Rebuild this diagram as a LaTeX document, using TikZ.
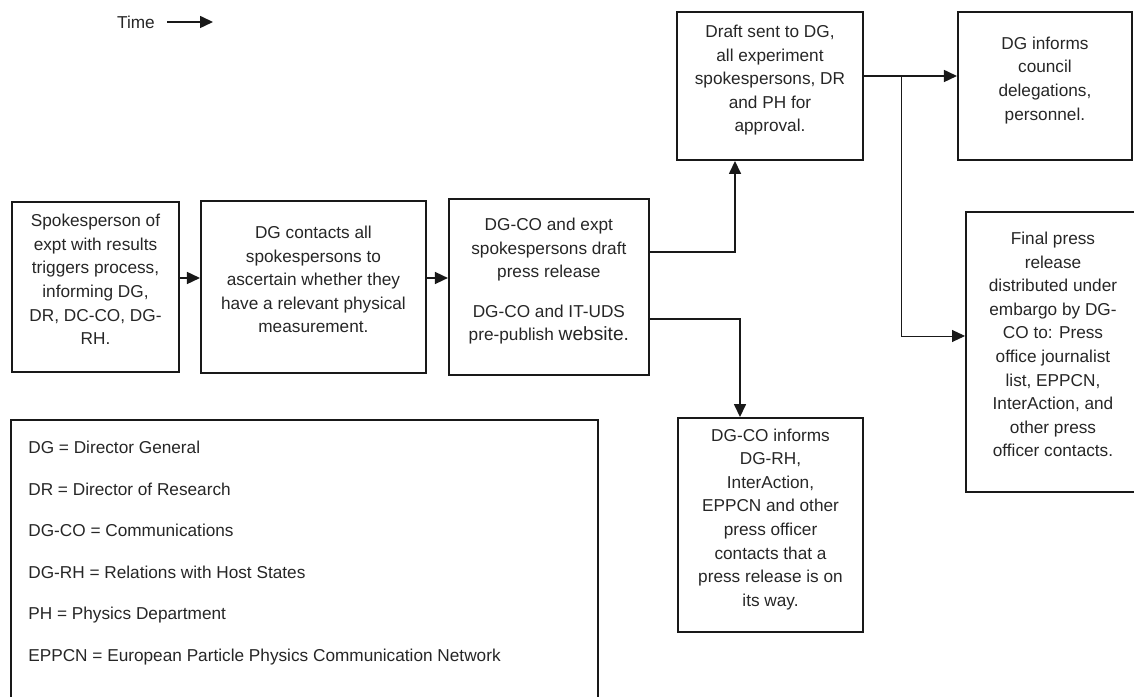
\documentclass[tikz,border=0pt]{standalone}
\usepackage{fontspec}
\setmainfont{Liberation Sans}
\usepackage{tikz}
\usetikzlibrary{arrows.meta, calc, positioning}
\tikzstyle{stage} = [rectangle, draw=black!90, line width=1.1pt, align=center, text=black!85, text depth=0.3cm, font=\fontsize{9.8}{13.4}\selectfont]
\tikzstyle{legendbox} = [rectangle, draw=black!90, line width=1.1pt, minimum width=11.74cm, minimum height=6cm]
\tikzstyle{flow} = [->, line width=0.9pt, draw=black!90]

\begin{document}
\begin{tikzpicture}[>={Triangle[length=0.26cm,width=0.24cm]}]
	\useasboundingbox (0,0) rectangle (22.68,13.94);
	\clip (0,0) rectangle (22.68,13.94);
	\tikzstyle{every node}=[font=\fontsize{9.8}{11.8}\selectfont, text=black!85]

	\node (time) at (2.72,13.5) {Time};
	\coordinate (timeend) at (4.26,13.5);

	\node [stage, minimum width=3.34cm, minimum height=3.4cm] (spokes) at (1.91,8.2) {Spokesperson of\\expt with results\\triggers process,\\informing DG,\\DR, DC-CO, DG-\\RH.};
	\node [stage, minimum width=4.5cm, minimum height=3.44cm, right=0.4cm of spokes] (contacts) {DG contacts all\\spokespersons to\\ascertain whether they\\have a relevant physical\\measurement.};
	\node [stage, minimum width=4.0cm, minimum height=3.52cm, right=0.42cm of contacts] (draftpr) {DG-CO and expt\\spokespersons draft\\press release\\[9pt]DG-CO and IT-UDS\\pre-publish {\fontsize{10.9}{13.4}\selectfont website.}};

	\node [stage, minimum width=3.72cm, minimum height=2.96cm] (approval) at (15.4,12.22) {Draft sent to DG,\\all experiment\\spokespersons, DR\\and PH for\\approval.};
	\node [stage, minimum width=3.48cm, minimum height=2.96cm, right=1.86cm of approval] (council) {DG informs\\council\\delegations,\\personnel.};
	\node [stage, minimum width=3.48cm, minimum height=5.6cm] (final) at (21.06,6.9) {Final press\\release\\distributed under\\embargo by DG-\\CO to: Press\\office journalist\\list, EPPCN,\\InterAction, and\\other press\\officer contacts.};
	\node [stage, minimum width=3.7cm, minimum height=4.28cm] (informs) at (15.41,3.44) {DG-CO informs\\DG-RH,\\InterAction,\\EPPCN and other\\press officer\\contacts that a\\press release is on\\its way.};

	\node [legendbox, anchor=north west] (legend) at (0.2,5.56) {};
	\node [anchor=north west, align=left, inner sep=0pt, font=\fontsize{9.8}{23.6}\selectfont] (abbrev) at ([xshift=0.36cm,yshift=-0.44cm]legend.north west) {DG = Director General\\DR = Director of Research\\DG-CO = Communications\\DG-RH = Relations with Host States\\PH = Physics Department\\EPPCN = European Particle Physics Communication Network};

	\draw[flow] ([xshift=0.12cm]time.east) -- (timeend);
	\draw[flow] ([yshift=0.18cm]spokes.east) -- ([yshift=0.18cm]contacts.west);
	\draw[flow] ([yshift=0.18cm]contacts.east) -- ([yshift=0.18cm]draftpr.west);
	\draw[flow] ([yshift=0.7cm]draftpr.east) -| ([xshift=-0.7cm]approval.south);
	\draw[flow] ([yshift=-0.64cm]draftpr.east) -| ([xshift=-0.61cm]informs.north);
	\draw[flow] ([yshift=0.2cm]approval.east) -- ([yshift=0.2cm]council.west);
	\coordinate (split) at ($([yshift=0.2cm]approval.east)!0.4!([yshift=0.2cm]council.west)$);
	\draw[flow, line width=0.5pt] (split) |- ([yshift=0.32cm]final.west);

\end{tikzpicture}
\end{document}
